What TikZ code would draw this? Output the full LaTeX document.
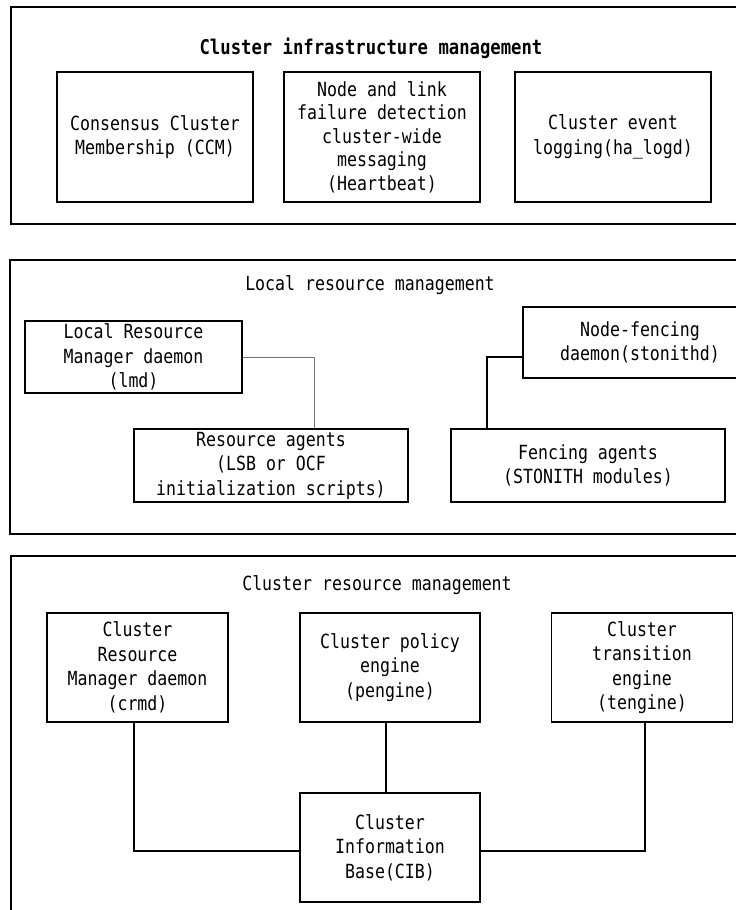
\documentclass[tikz,border=0pt]{standalone}
\usepackage{fontspec}
\setmainfont[FakeStretch=0.85]{DejaVu Sans Mono}
\begin{document}
\begin{tikzpicture}[x=1pt,y=-1pt,
every node/.style={font=\fontsize{19.5}{24.5}\selectfont},
frame/.style={draw=black, line width=1.6pt},
box/.style={draw=black, line width=1.1pt, align=center, inner sep=0pt},
link/.style={draw=black, line width=1.1pt},
thinlink/.style={draw=black!55, line width=0.9pt}]
\clip (0,0) rectangle (736,910);
\fill[white] (0,0) rectangle (736,910);
\draw[frame] (11,7) rectangle (760,224);
\draw[frame] (10,260) rectangle (760,534);
\draw[frame] (11,556) rectangle (760,950);
\node (infra) at (371,48) [font=\bfseries\fontsize{20.3}{24}\selectfont] {Cluster infrastructure management};
\node[box, minimum width=196pt, minimum height=130pt] (ccm) at (155,137) {Consensus Cluster\\Membership (CCM)};
\node[box, minimum width=196pt, minimum height=130pt, font=\fontsize{19.5}{23.5}\selectfont] (hb) at (382,137) {Node and link\\failure detection\\cluster-wide\\messaging\\(Heartbeat)};
\node[box, minimum width=196pt, minimum height=130pt] (logd) at (613,137) {Cluster event\\logging(ha\_logd)};
\node (local) at (370,285) {Local resource management};
\node[box, minimum width=217pt, minimum height=72pt] (lrmd) at (133.5,357) {Local Resource\\Manager daemon\\(lmd)};
\node[box, minimum width=274pt, minimum height=73pt] (ra) at (271,465.5) {Resource agents\\(LSB or OCF\\initialization scripts)};
\node[box, minimum width=234pt, minimum height=71pt] (ston) at (640,342.5) {Node-fencing\\daemon(stonithd)};
\node[box, minimum width=274pt, minimum height=73pt] (fence) at (588,465.5) {Fencing agents\\(STONITH modules)};
\draw[thinlink] (lrmd.east) -| ([xshift=43pt]ra.north);
\draw[link] ([yshift=-14.5pt]ston.west) -| ([xshift=-101pt]fence.north);
\node (crm) at (377,585) {Cluster resource management};
\node[box, minimum width=181pt, minimum height=109pt] (crmd) at (137.5,667.5) {Cluster\\Resource\\Manager daemon\\(crmd)};
\node[box, minimum width=180pt, minimum height=109pt] (peng) at (390,667.5) {Cluster policy\\engine\\(pengine)};
\node[box, minimum width=181pt, minimum height=109pt] (teng) at (642,667.5) {Cluster\\transition\\engine\\(tengine)};
\node[box, minimum width=180pt, minimum height=109pt] (cib) at (390,847.5) {Cluster\\Information\\Base(CIB)};
\draw[link] ([xshift=-3.5pt]crmd.south) |- ([yshift=-3.5pt]cib.west);
\draw[link] ([xshift=-4pt]peng.south) -- ([xshift=-4pt]cib.north);
\draw[link] ([xshift=3pt]teng.south) |- ([yshift=-3.5pt]cib.east);
\end{tikzpicture}
\end{document}
